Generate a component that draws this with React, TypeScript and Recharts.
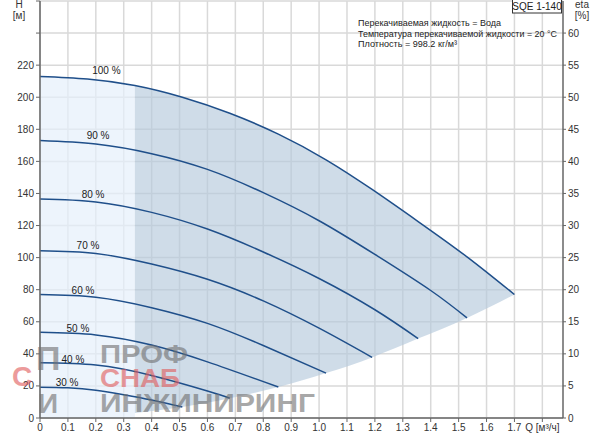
import React from 'react';
import {
  ComposedChart, Line, Area, XAxis, YAxis, CartesianGrid, ReferenceDot,
} from 'recharts';

// ---- data ----
// 100 % curve (also top of the shaded operating envelope)
const q100 = [0, 0.17, 0.34, 0.51, 0.68, 0.854, 1.025, 1.19, 1.355, 1.53, 1.7];
const h100 = [213, 211.4, 207.3, 200, 190, 177, 161, 142.5, 122.5, 100.5, 77];
// lower boundary of the envelope (through the curve end points), from q100[2]
const envLow = [3.1, 6.9, 12.3, 19.3, 28, 37.8, 49.5, 62.4, 77];

const q90 = [0, 0.2, 0.4, 0.6, 0.8, 1.0, 1.2, 1.4, 1.53];
const h90 = [173, 170.8, 164.8, 155, 140.5, 123, 102, 79.5, 62.4];
const q80 = [0, 0.2, 0.4, 0.6, 0.8, 1.0, 1.2, 1.355];
const h80 = [136.5, 134.7, 128.2, 117.8, 103.5, 87, 67.5, 49.5];
const q70 = [0, 0.2, 0.4, 0.6, 0.8, 1.0, 1.19];
const h70 = [104.3, 102.6, 96, 86.5, 73, 56, 37.8];
const q60 = [0, 0.2, 0.4, 0.6, 0.8, 1.025];
const h60 = [77, 75.3, 68.8, 59, 45.2, 28];
const q50 = [0, 0.2, 0.4, 0.6, 0.854];
const h50 = [53.4, 51.8, 45.5, 35, 19.3];
const q40 = [0, 0.2, 0.4, 0.6, 0.68];
const h40 = [34.4, 33, 26.5, 16.8, 12.3];
const q30 = [0, 0.1, 0.2, 0.3, 0.4, 0.51];
const h30 = [19.2, 18.8, 17.3, 14.5, 11.2, 6.9];

const curveNames = ['100 %', '90 %', '80 %', '70 %', '60 %', '50 %', '40 %', '30 %'];
const curveLabelQ = [0.238, 0.208, 0.19, 0.172, 0.154, 0.136, 0.118, 0.097];
const curveLabelH = [216.5, 175.9, 139.6, 107.4, 79.3, 56.1, 36.6, 22.2];

const xTicks = [0, 0.1, 0.2, 0.3, 0.4, 0.5, 0.6, 0.7, 0.8, 0.9, 1.0, 1.1, 1.2, 1.3, 1.4, 1.5, 1.6, 1.7, 1.8];
const hTicks = [0, 20, 40, 60, 80, 100, 120, 140, 160, 180, 200, 220, 240, 260];
const etaTicks = [0, 5, 10, 15, 20, 25, 30, 35, 40, 45, 50, 55, 60];
const infoLines = [
  'Перекачиваемая жидкость = Вода',
  'Температура перекачиваемой жидкости = 20 °C',
  'Плотность = 998.2 кг/м³',
];
const modelName = 'SQE 1-140';
const watermarkWords = ['ПРОФ', 'СНАБ', 'ИНЖИНИРИНГ'];

// ---- layout / style (not data) ----
const infoWidths = [143, 199, 99];
const wmX = [100, 100, 100];
const wmY = [363, 387, 412];
const wmW = [88, 80, 215];
const wmFill = ['#6f6f6f', '#e05a5a', '#6f6f6f'];

// ---- build series tables ----
const mk = (qs: number[], hs: number[]) => qs.map((q, i) => ({ q, h: hs[i] }));
const curves = [
  mk(q100, h100), mk(q90, h90), mk(q80, h80), mk(q70, h70),
  mk(q60, h60), mk(q50, h50), mk(q40, h40), mk(q30, h30),
];
const lightData = q100.slice(0, 3).map((q, i) => ({ q, h: h100[i] }));
const darkData = q100.slice(2).map((q, i) => ({ q, r: [envLow[i], h100[i + 2]] }));

const FONT = '"Liberation Sans", Arial, sans-serif';
const LINE = '#1f4f8a';
const tickStyle = { fontSize: 10, fill: '#333', fontFamily: FONT };

const fmtX = (v: number) => (Math.abs(v - 1.8) < 1e-6 ? 'Q [м³/ч]' : v === 0 ? '0' : v.toFixed(1));
const fmtH = (v: number) => (v > 220 ? '' : String(v));

export default function App() {
  return (
    <div style={{ position: 'absolute', left: 0, top: 0, width: 600, height: 434, background: '#fff' }}>
      <ComposedChart width={600} height={434} margin={{ top: 1, right: 7, bottom: 0, left: 8 }}>
        <CartesianGrid yAxisId="h" stroke="#d9d9d9" strokeWidth={1.5} verticalValues={xTicks} />
        <XAxis
          dataKey="q" type="number" domain={[0, 1.874]} ticks={xTicks} interval={0}
          tickFormatter={fmtX} tick={tickStyle} tickSize={4} tickMargin={2} height={16}
          axisLine={{ stroke: '#666', strokeWidth: 1.5 }} tickLine={{ stroke: '#666' }}
          allowDataOverflow
        />
        <YAxis
          yAxisId="h" domain={[0, 260]} ticks={hTicks} interval={0} tickFormatter={fmtH}
          tick={tickStyle} tickSize={4} tickMargin={2} width={32}
          axisLine={{ stroke: '#666', strokeWidth: 1.5 }} tickLine={{ stroke: '#666' }}
          allowDataOverflow
        />
        <YAxis
          yAxisId="eta" orientation="right" domain={[0, 65]} ticks={etaTicks} interval={0}
          tick={tickStyle} tickSize={3} tickMargin={2} width={30}
          axisLine={{ stroke: '#666', strokeWidth: 1.5 }} tickLine={{ stroke: '#666' }}
          allowDataOverflow
        />
        <Area
          yAxisId="h" data={lightData} dataKey="h" type="natural" stroke="none"
          fill="#e6f0fb" fillOpacity={0.7} isAnimationActive={false}
        />
        <Area
          yAxisId="h" data={darkData} dataKey="r" type="natural" stroke="none"
          fill="#b6c9dc" fillOpacity={0.65} isAnimationActive={false}
        />
        {curves.map((d, i) => (
          <Line
            key={curveNames[i]} yAxisId="h" data={d} dataKey="h" type="natural"
            stroke={LINE} strokeWidth={1.5} dot={false} activeDot={false}
            isAnimationActive={false}
          />
        ))}
        {curveNames.map((name, i) => (
          <ReferenceDot
            key={'lbl' + name} yAxisId="h" x={curveLabelQ[i]} y={curveLabelH[i]} r={0}
            fill="none" stroke="none" ifOverflow="visible"
            label={{ value: name, position: 'center', fontSize: 10, fill: '#222', fontFamily: FONT }}
          />
        ))}
      </ComposedChart>
      <svg
        width={600} height={434}
        style={{ position: 'absolute', left: 0, top: 0, pointerEvents: 'none' }}
        fontFamily={FONT}
      >
        <text x={19} y={8} fontSize={10} fill="#333" textAnchor="middle">H</text>
        <text x={19} y={19} fontSize={10} fill="#333" textAnchor="middle">[м]</text>
        <text x={582} y={8} fontSize={10} fill="#333" textAnchor="middle">eta</text>
        <text x={582} y={19} fontSize={10} fill="#333" textAnchor="middle">[%]</text>
        <rect x={512.5} y={-1} width={49} height={14} fill="#fff" stroke="#333" strokeWidth={1} />
        <text x={537} y={10} fontSize={10} fill="#222" textAnchor="middle">{modelName}</text>
        {infoLines.map((t, i) => (
          <text key={t} x={358} y={26 + i * 10.5} fontSize={9.5} fill="#222"
            textLength={infoWidths[i]} lengthAdjust="spacingAndGlyphs">{t}</text>
        ))}
        {/* watermark */}
        <g opacity={0.6}>
          <text x={36} y={370} fontSize={34} fill="#6f6f6f" fontWeight="bold">П</text>
          <text x={12} y={386} fontSize={28} fill="#e05a5a" fontWeight="bold">С</text>
          <text x={38} y={413} fontSize={28} fill="#6f6f6f" fontWeight="bold">И</text>
          {watermarkWords.map((w, i) => (
            <text key={w} x={wmX[i]} y={wmY[i]} fontSize={26} fill={wmFill[i]}
              fontWeight="bold" textLength={wmW[i]} lengthAdjust="spacingAndGlyphs">{w}</text>
          ))}
        </g>
      </svg>
    </div>
  );
}
